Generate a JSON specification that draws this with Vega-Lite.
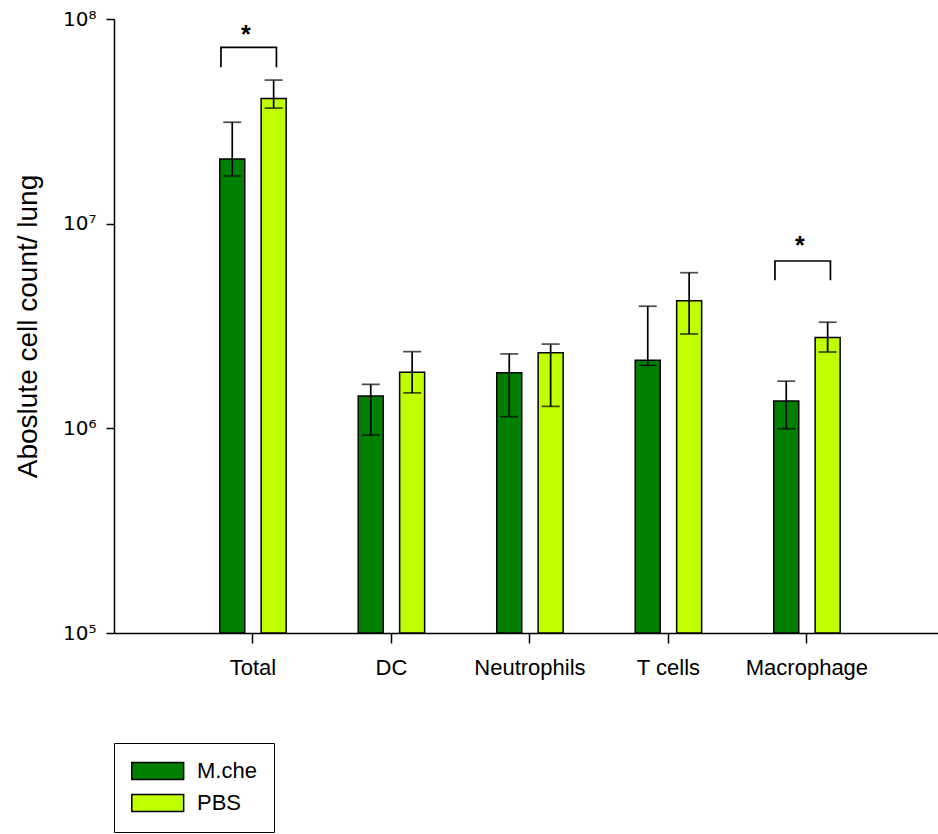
{
  "$schema": "https://vega.github.io/schema/vega-lite/v6.json",
  "width": 824,
  "height": 614,
  "autosize": {"type": "none"},
  "padding": {"left": 114, "top": 19, "right": 0, "bottom": 201},
  "background": "white",
  "config": {
    "font": "Liberation Sans",
    "view": {"stroke": null},
    "axis": {
      "domainColor": "black",
      "domainWidth": 1.5,
      "tickColor": "black",
      "tickWidth": 1.5,
      "labelColor": "black",
      "titleColor": "black",
      "labelFont": "Liberation Sans",
      "titleFont": "Liberation Sans",
      "grid": false
    }
  },
  "datasets": {
    "cells": [
      {"cat": "Total", "group": "M.che", "value": 20700000, "lo": 17100000, "hi": 31300000},
      {"cat": "Total", "group": "PBS", "value": 40900000, "lo": 36700000, "hi": 50300000},
      {"cat": "DC", "group": "M.che", "value": 1440000, "lo": 927000, "hi": 1640000},
      {"cat": "DC", "group": "PBS", "value": 1880000, "lo": 1490000, "hi": 2370000},
      {"cat": "Neutrophils", "group": "M.che", "value": 1870000, "lo": 1140000, "hi": 2310000},
      {"cat": "Neutrophils", "group": "PBS", "value": 2340000, "lo": 1280000, "hi": 2580000},
      {"cat": "T cells", "group": "M.che", "value": 2150000, "lo": 2030000, "hi": 3950000},
      {"cat": "T cells", "group": "PBS", "value": 4200000, "lo": 2890000, "hi": 5760000},
      {"cat": "Macrophage", "group": "M.che", "value": 1360000, "lo": 995000, "hi": 1700000},
      {"cat": "Macrophage", "group": "PBS", "value": 2780000, "lo": 2360000, "hi": 3300000}
    ],
    "brackets": [
      {"cat": "Total", "end": "M.che", "y": 58100000, "seq": 1},
      {"cat": "Total", "end": "M.che", "y": 72700000, "seq": 2},
      {"cat": "Total", "end": "PBS", "y": 72700000, "seq": 3},
      {"cat": "Total", "end": "PBS", "y": 58100000, "seq": 4},
      {"cat": "Macrophage", "end": "M.che", "y": 5290000, "seq": 1},
      {"cat": "Macrophage", "end": "M.che", "y": 6570000, "seq": 2},
      {"cat": "Macrophage", "end": "PBS", "y": 6570000, "seq": 3},
      {"cat": "Macrophage", "end": "PBS", "y": 5290000, "seq": 4}
    ],
    "stars": [
      {"cat": "Total", "y": 76700000, "label": "*"},
      {"cat": "Macrophage", "y": 7090000, "label": "*"}
    ]
  },
  "encoding": {
    "x": {
      "field": "cat",
      "type": "nominal",
      "sort": ["Total", "DC", "Neutrophils", "T cells", "Macrophage"],
      "scale": {"paddingInner": 0, "paddingOuter": 0.4747, "align": 0.53},
      "axis": {
        "title": null,
        "labelAngle": 0,
        "labelFontSize": 22,
        "tickSize": 10,
        "labelPadding": 14
      }
    }
  },
  "resolve": {"scale": {"xOffset": "independent"}},
  "layer": [
    {
      "data": {"name": "cells"},
      "mark": {"type": "bar", "stroke": "black", "strokeWidth": 1.5},
      "encoding": {
        "xOffset": {
          "field": "group", "type": "nominal", "sort": ["M.che", "PBS"],
          "scale": {"paddingInner": 0.396, "paddingOuter": 0.8706}
        },
        "y": {
          "field": "value",
          "type": "quantitative",
          "scale": {"type": "log", "domain": [100000, 100000000], "nice": false},
          "axis": {
            "title": "Aboslute cell count/ lung",
            "titleFontSize": 28,
            "titleFontWeight": "normal",
            "titlePadding": 20,
            "values": [100000, 1000000, 10000000, 100000000],
            "labelExpr": "datum.value >= 50000000 ? '10⁸' : datum.value >= 5000000 ? '10⁷' : datum.value >= 500000 ? '10⁶' : '10⁵'",
            "labelFont": "DejaVu Sans",
            "labelFontSize": 20,
            "tickSize": 8,
            "labelPadding": 10
          }
        },
        "y2": {"datum": 100000},
        "color": {
          "field": "group",
          "type": "nominal",
          "scale": {"domain": ["M.che", "PBS"], "range": ["#008000", "#c0ff00"]},
          "legend": {
            "title": null,
            "orient": "none",
            "legendX": 0,
            "legendY": 724,
            "direction": "vertical",
            "strokeColor": "black",
            "padding": 17,
            "symbolType": "M-1.2,-1H4.9V1H-1.2Z",
            "symbolSize": 289,
            "symbolStrokeColor": "black",
            "symbolStrokeWidth": 1.5,
            "symbolOpacity": 1,
            "labelFontSize": 22,
            "labelColor": "black",
            "labelOffset": 44,
            "rowPadding": 8
          }
        }
      }
    },
    {
      "data": {"name": "cells"},
      "mark": {"type": "rule", "color": "black", "strokeWidth": 1.7},
      "encoding": {
        "xOffset": {
          "field": "group", "type": "nominal", "sort": ["M.che", "PBS"],
          "scale": {"paddingInner": 0.396, "paddingOuter": 0.8706}
        },
        "y": {"field": "lo", "type": "quantitative"},
        "y2": {"field": "hi"}
      }
    },
    {
      "data": {"name": "cells"},
      "mark": {"type": "tick", "color": "black", "size": 18, "thickness": 1.7, "orient": "horizontal"},
      "encoding": {
        "xOffset": {
          "field": "group", "type": "nominal", "sort": ["M.che", "PBS"],
          "scale": {"paddingInner": 0.396, "paddingOuter": 0.8706}
        },
        "y": {"field": "hi", "type": "quantitative"}
      }
    },
    {
      "data": {"name": "cells"},
      "mark": {"type": "tick", "color": "black", "size": 18, "thickness": 1.7, "orient": "horizontal"},
      "encoding": {
        "xOffset": {
          "field": "group", "type": "nominal", "sort": ["M.che", "PBS"],
          "scale": {"paddingInner": 0.396, "paddingOuter": 0.8706}
        },
        "y": {"field": "lo", "type": "quantitative"}
      }
    },
    {
      "data": {"name": "brackets"},
      "mark": {"type": "line", "color": "black", "strokeWidth": 1.7, "strokeJoin": "miter"},
      "encoding": {
        "xOffset": {
          "field": "end", "type": "nominal", "sort": ["M.che", "PBS"],
          "scale": {"type": "point", "padding": 0.7477, "align": 0.4488}
        },
        "y": {"field": "y", "type": "quantitative"},
        "detail": {"field": "cat"},
        "order": {"field": "seq", "type": "quantitative"}
      }
    },
    {
      "data": {"name": "stars"},
      "mark": {"type": "text", "fontSize": 25, "baseline": "alphabetic", "dx": -7, "color": "black", "fontWeight": "bold"},
      "encoding": {
        "y": {"field": "y", "type": "quantitative"},
        "text": {"field": "label"}
      }
    },
    {
      "mark": {"type": "rule", "color": "black", "strokeWidth": 1.5},
      "encoding": {"y": {"datum": 100000000}}
    }
  ]
}
